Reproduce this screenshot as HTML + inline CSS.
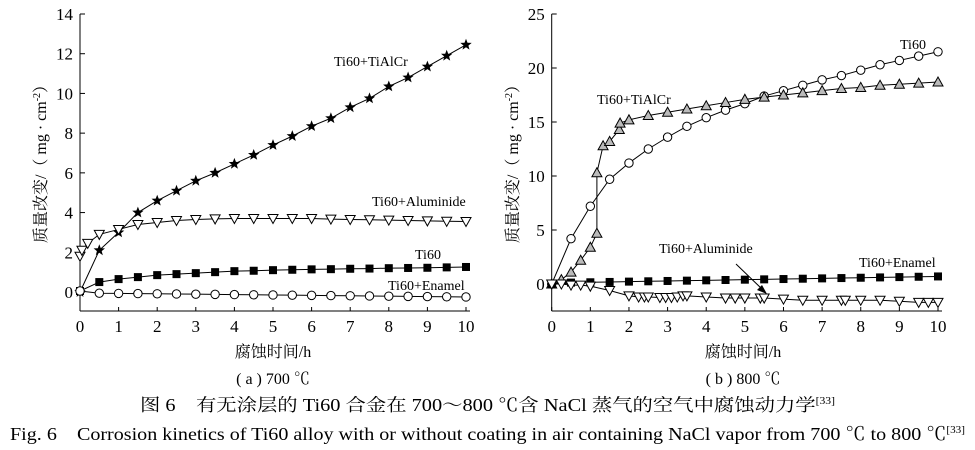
<!DOCTYPE html>
<html><head><meta charset="utf-8"><style>
html,body{margin:0;padding:0;background:#fff;}
svg{display:block;font-family:"Liberation Serif","Noto Serif CJK SC",serif;}
</style></head><body>
<svg id="s" width="975" height="450" xmlns="http://www.w3.org/2000/svg">
<g id="g"></g>
<text x="273" y="357" font-size="16" text-anchor="middle">腐蚀时间/h</text>
<text x="743" y="357" font-size="16" text-anchor="middle">腐蚀时间/h</text>
<text x="273" y="384" font-size="16" text-anchor="middle">( a ) 700 ℃</text>
<text x="743" y="384" font-size="16" text-anchor="middle">( b ) 800 ℃</text>
<text x="46" y="160" font-size="16" text-anchor="middle" transform="rotate(-90 46 160)">质量改变/（ mg · cm<tspan font-size="10" dy="-6">-2</tspan><tspan dy="6">）</tspan></text>
<text x="518" y="160" font-size="16" text-anchor="middle" transform="rotate(-90 518 160)">质量改变/（ mg · cm<tspan font-size="10" dy="-6">-2</tspan><tspan dy="6">）</tspan></text>
<text x="140" y="411" font-size="17.5" textLength="695" lengthAdjust="spacingAndGlyphs">图 6　有无涂层的 Ti60 合金在 700～800 ℃含 NaCl 蒸气的空气中腐蚀动力学<tspan font-size="10" dy="-7">[33]</tspan></text>
<text x="10" y="440" font-size="18" textLength="955" lengthAdjust="spacingAndGlyphs">Fig. 6　Corrosion kinetics of Ti60 alloy with or without coating in air containing NaCl vapor from 700 ℃ to 800 ℃<tspan font-size="10" dy="-7">[33]</tspan></text>
<g font-size="14">
<text x="334" y="66">Ti60+TiAlCr</text>
<text x="372" y="206">Ti60+Aluminide</text>
<text x="415" y="259">Ti60</text>
<text x="388" y="290">Ti60+Enamel</text>
<text x="900" y="49">Ti60</text>
<text x="597" y="104">Ti60+TiAlCr</text>
<text x="659" y="253">Ti60+Aluminide</text>
<text x="859" y="267">Ti60+Enamel</text>
</g>
<line x1="736" y1="264" x2="763" y2="290" stroke="#000" stroke-width="1"/>
<polygon points="767,294 757,290 762,285" fill="#000"/>
</svg>
<script>
var g=document.getElementById('g'),h='';
function ax(x0,x1,yTop,yZero,yBot,ymax,step){
 var sx=(x1-x0)/10,sy=(yZero-yTop)/ymax;
 h+='<line x1="'+x0+'" y1="'+yTop+'" x2="'+x0+'" y2="'+yBot+'" stroke="#000"/><line x1="'+x0+'" y1="'+yBot+'" x2="'+(x1+4)+'" y2="'+yBot+'" stroke="#000"/>';
 for(var i=0;i<=10;i++){var x=x0+i*sx;h+='<line x1="'+x+'" y1="'+yBot+'" x2="'+x+'" y2="'+(yBot-4)+'" stroke="#000"/><text x="'+x+'" y="'+(yBot+21)+'" font-size="17" text-anchor="middle">'+i+'</text>';}
 for(var v=0;v<=ymax;v+=step){var y=yZero-v*sy;h+='<line x1="'+x0+'" y1="'+y+'" x2="'+(x0+5)+'" y2="'+y+'" stroke="#000"/><text x="'+(x0-7)+'" y="'+(y+6)+'" font-size="17" text-anchor="end">'+v+'</text>';}
 return function(p){return [x0+p[0]*sx,yZero-p[1]*sy];};
}
function star(x,y,r){var s='';for(var i=0;i<10;i++){var a=-Math.PI/2+i*Math.PI/5,rr=i%2?r*0.42:r;s+=(x+rr*Math.cos(a)).toFixed(1)+','+(y+rr*Math.sin(a)).toFixed(1)+' ';}return '<polygon points="'+s+'" fill="#000"/>';}
function mk(t,x,y){
 if(t=='star')return star(x,y,6);
 if(t=='sq')return '<rect x="'+(x-4)+'" y="'+(y-4)+'" width="8" height="8" fill="#000"/>';
 if(t=='o')return '<circle cx="'+x+'" cy="'+y+'" r="4.2" fill="#fff" stroke="#000"/>';
 if(t=='dn')return '<polygon points="'+(x-5)+','+(y-4)+' '+(x+5)+','+(y-4)+' '+x+','+(y+5)+'" fill="#fff" stroke="#000"/>';
 if(t=='up')return '<polygon points="'+(x-5)+','+(y+4)+' '+(x+5)+','+(y+4)+' '+x+','+(y-5)+'" fill="#bbb" stroke="#000"/>';
}
function ser(f,d,t){var pts=d.map(f);h+='<polyline fill="none" stroke="#000" stroke-width="1" points="'+pts.map(p=>p.join(',')).join(' ')+'"/>';pts.forEach(p=>h+=mk(t,p[0],p[1]));}
var L=ax(80,466,14,292,311,14,2);
ser(L,[[0,0],[0.5,2.1],[1,3],[1.5,4],[2,4.6],[2.5,5.1],[3,5.6],[3.5,6],[4,6.45],[4.5,6.9],[5,7.4],[5.5,7.85],[6,8.35],[6.5,8.75],[7,9.3],[7.5,9.75],[8,10.35],[8.5,10.8],[9,11.35],[9.5,11.9],[10,12.45]],'star');
ser(L,[[0,1.8],[0.05,2.1],[0.2,2.45],[0.5,2.9],[1,3.15],[1.5,3.4],[2,3.5],[2.5,3.6],[3,3.65],[3.5,3.68],[4,3.7],[4.5,3.7],[5,3.7],[5.5,3.7],[6,3.7],[6.5,3.67],[7,3.65],[7.5,3.64],[8,3.62],[8.5,3.6],[9,3.58],[9.5,3.56],[10,3.55]],'dn');
var t=[[0,0.05],[0.5,0.5],[1,0.65],[1.5,0.75],[2,0.85],[2.5,0.9],[3,0.95],[3.5,1],[4,1.05],[4.5,1.07],[5,1.1],[5.5,1.12],[6,1.14],[6.5,1.15],[7,1.17],[7.5,1.18],[8,1.2],[8.5,1.21],[9,1.22],[9.5,1.24],[10,1.26]];ser(L,t,'sq');
var e=[[0,0.05]];for(var i=1;i<=20;i++)e.push([i/2,-0.05-0.2*i/20]);ser(L,e,'o');
var R=ax(551.7,938,14,284,311,25,5);
ser(R,[[0,0],[0.5,4.2],[1,7.2],[1.5,9.7],[2,11.2],[2.5,12.5],[3,13.6],[3.5,14.6],[4,15.4],[4.5,16.1],[5,16.7],[5.5,17.4],[6,17.9],[6.5,18.4],[7,18.9],[7.5,19.3],[8,19.8],[8.5,20.3],[9,20.7],[9.5,21.1],[10,21.5]],'o');
ser(R,[[0,0],[0.25,0.4],[0.5,1.1],[0.75,2.2],[1,3.4],[1.17,4.7],[1.17,10.3],[1.33,12.8],[1.5,13.2],[1.75,14.3],[1.77,14.9],[2,15.2],[2.5,15.6],[3,15.9],[3.5,16.2],[4,16.5],[4.5,16.8],[5,17.1],[5.5,17.3],[6,17.5],[6.5,17.7],[7,17.9],[7.5,18.1],[8,18.2],[8.5,18.4],[9,18.5],[9.5,18.6],[10,18.7]],'up');
var en=[[0,0]];for(var i=1;i<=20;i++)en.push([i/2,0.1+0.6*i/20]);ser(R,en,'sq');
ser(R,[[0,0],[0.25,0],[0.5,-0.1],[0.75,-0.1],[1,-0.2],[1.5,-0.6],[2,-1.1],[2.25,-1.2],[2.4,-1.2],[2.5,-1.2],[2.8,-1.25],[2.95,-1.25],[3.1,-1.25],[3.25,-1.2],[3.4,-1.1],[3.5,-1.1],[4,-1.2],[4.5,-1.3],[4.75,-1.3],[5,-1.3],[5.4,-1.3],[5.5,-1.3],[6,-1.4],[6.5,-1.5],[7,-1.5],[7.5,-1.5],[7.6,-1.5],[8,-1.5],[8.5,-1.5],[9,-1.6],[9.5,-1.7],[9.75,-1.7],[10,-1.7]],'dn');
g.innerHTML=h;
</script>
</body></html>
